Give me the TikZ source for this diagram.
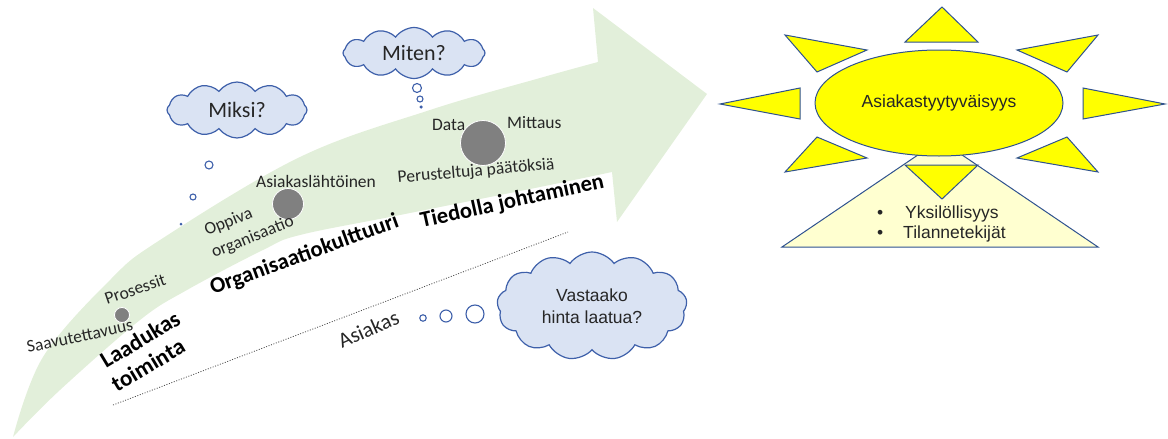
\documentclass[tikz,border=0pt]{standalone}
\usepackage{fontspec}
\setmainfont{Carlito}
\newfontfamily\arialf{Liberation Sans}
\usetikzlibrary{shapes.symbols,shapes.geometric}

\definecolor{arrowgreen}{RGB}{226,239,218}
\definecolor{cloudfill}{RGB}{218,227,243}
\definecolor{cloudline}{RGB}{62,96,170}
\definecolor{sunline}{RGB}{47,82,143}
\definecolor{sunyellow}{RGB}{255,255,0}
\definecolor{paleyellow}{RGB}{255,255,208}
\definecolor{dotgray}{RGB}{128,128,128}
\definecolor{txt}{RGB}{38,38,38}

\begin{document}
\begin{tikzpicture}[x=1pt,y=-1pt,
  lbl/.style={font=\fontsize{17.5}{21}\selectfont, inner sep=0pt, text=txt, anchor=base west},
  boldlbl/.style={font=\fontsize{22.5}{24}\selectfont\bfseries, inner sep=0pt, text=black, anchor=base west},
  dotc/.style={circle, fill=dotgray, draw=white, line width=0.8pt, inner sep=0pt},
  thought/.style={cloud, cloud ignores aspect, cloud puffs=12, cloud puff arc=110, fill=cloudfill, draw=cloudline, line width=1.2pt, inner sep=0pt, text=txt},
  bubble/.style={circle, draw=cloudline, fill=white, line width=1.1pt, inner sep=0pt},
  ray/.style={fill=sunyellow, draw=sunline, line width=1pt, line join=miter},
  arialtxt/.style={font=\arialf\fontsize{17.5}{21}\selectfont, inner sep=0pt, text=txt},
  dotline/.style={draw=black!70, line width=0.8pt, dash pattern=on 1pt off 1.6pt},
]
\useasboundingbox (0,0) rectangle (1168,439);

% green curved arrow
\fill[arrowgreen] plot[smooth, tension=0.6] coordinates {(13,437) (43,357) (110,280) (160,240) (300,157) (430,110) (540,78) (598,62)}
  -- (593,8) -- (707,94) -- (617,222) -- (612,172)
  -- plot[smooth, tension=0.6] coordinates {(612,172) (540,187) (400,215) (300,235) (263,250) (187,290) (140,320) (60,390) (13,437)} -- cycle;

% dotted line
\coordinate (d1) at (113,405);
\coordinate (d2) at (568,232);
\draw[dotline] (d1) -- (d2);

% grey dots
\node[dotc, minimum size=15] (g1) at (122,315) {};
\node[dotc, minimum size=31] (g2) at (288,204) {};
\node[dotc, minimum size=45] (g3) at (483,143) {};

% labels
\node[lbl, rotate=12] (saav) at (28,353) {Saavutettavuus};
\node[lbl, rotate=19] (pros) at (107,305) {Prosessit};
\node[boldlbl, rotate=31, font=\fontsize{23}{24}\selectfont\bfseries] (laad) at (106,369) {Laadukas};
\node[boldlbl, rotate=31, font=\fontsize{23}{24}\selectfont\bfseries] (toim) at (117,393) {toiminta};
\node[boldlbl, rotate=20] (orgk) at (213,295) {Organisaatiokulttuuri};
\node[boldlbl, rotate=12.5] (tied) at (422,228) {Tiedolla johtaminen};
\node[lbl, rotate=22] (oppi) at (207,236) {Oppiva};
\node[lbl, rotate=22] (orga) at (214,258) {organisaatio};
\node[lbl] (asil) at (256,187) {Asiakaslähtöinen};
\node[lbl, rotate=5] (peru) at (398,183) {Perusteltuja päätöksiä};
\node[lbl] (data) at (432,130) {Data};
\node[lbl] (mitt) at (507,128) {Mittaus};
\node[lbl, rotate=24, font=\fontsize{21.5}{24}\selectfont] (asia) at (342,349) {Asiakas};

% clouds
\node[thought, minimum width=140, minimum height=56, font=\fontsize{22}{24}\selectfont] (miksi) at (237,110) {Miksi?};
\node[bubble, minimum size=8] (mk1) at (209,165) {};
\node[bubble, minimum size=6] (mk2) at (193,197) {};
\node[circle, fill=cloudline, inner sep=0pt, minimum size=3] (mk3) at (181,224) {};

\node[thought, minimum width=142, minimum height=51, font=\fontsize{22}{24}\selectfont] (miten) at (414,53) {Miten?};
\node[bubble, minimum size=9] (mt1) at (417,88) {};
\node[bubble, minimum size=6] (mt2) at (420,99) {};
\node[circle, fill=cloudline, inner sep=0pt, minimum size=3.5] (mt3) at (421,107) {};

\node[thought, cloud puffs=13, minimum width=190, minimum height=108, align=center, font=\arialf\fontsize{17.5}{22}\selectfont] (vast) at (592,306) {Vastaako\\hinta laatua?};
\node[bubble, minimum size=6.5] (v1) at (423,318) {};
\node[bubble, minimum size=12] (v2) at (446,316) {};
\node[bubble, minimum size=18] (v3) at (475,314) {};

% sun
\draw[fill=paleyellow, draw=sunline, line width=1pt] (782,247) -- (940,140) -- (1098,247) -- cycle;
\node[ellipse, minimum width=248, minimum height=106, fill=sunyellow, draw=sunline, line width=1pt, arialtxt] (sun) at (939,103) {Asiakastyytyväisyys};
\draw[ray] (905,42) -- (942,7) -- (978,42) -- cycle;
\draw[ray] (785,35) -- (867,50) -- (817,72) -- cycle;
\draw[ray] (1098,35) -- (1017,50) -- (1067,72) -- cycle;
\draw[ray] (720,104) -- (800,88) -- (800,119) -- cycle;
\draw[ray] (1165,104) -- (1083,88) -- (1083,119) -- cycle;
\draw[ray] (785,172) -- (817,137) -- (867,158) -- cycle;
\draw[ray] (1098,172) -- (1067,137) -- (1017,158) -- cycle;
\draw[ray] (905,165) -- (978,165) -- (942,199) -- cycle;

\node[arialtxt, anchor=base west] (b1) at (877,218) {\textbullet};
\node[arialtxt, anchor=base west] (y1) at (905,218) {Yksilöllisyys};
\node[arialtxt, anchor=base west] (b2) at (877,238) {\textbullet};
\node[arialtxt, anchor=base west] (y2) at (903,238) {Tilannetekijät};
\end{tikzpicture}
\end{document}
